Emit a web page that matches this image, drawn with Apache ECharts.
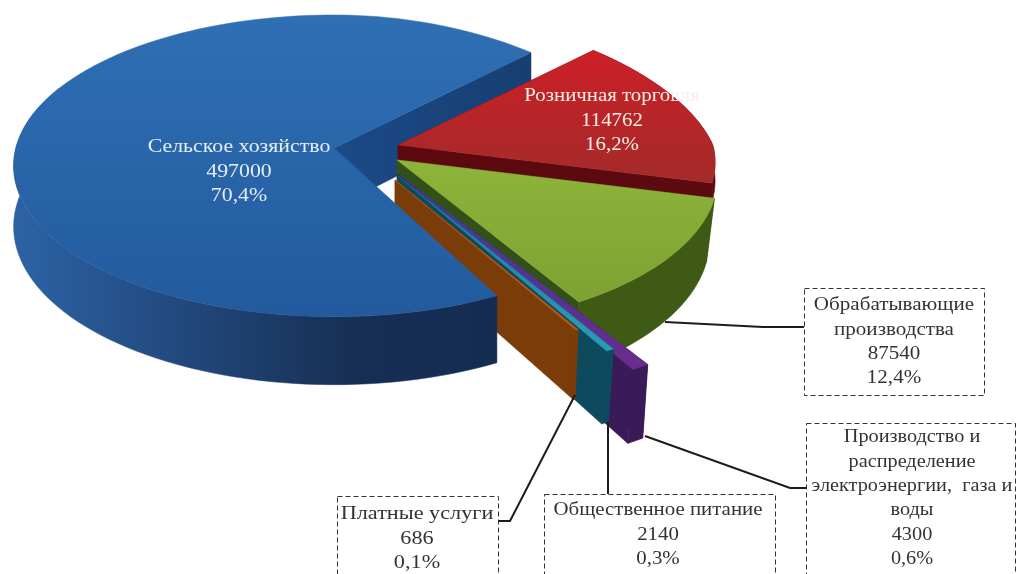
<!DOCTYPE html>
<html><head><meta charset="utf-8">
<style>html,body{margin:0;padding:0;background:#fff}#c{width:1017px;height:574px;filter:blur(0.7px)}</style>
<script src="https://cdn.jsdelivr.net/npm/echarts@6/dist/echarts.min.js"></script>
</head><body><div id="c"></div>
<script>
// ---- data, clockwise from the top-right edge of the red slice
const categories = ['Розничная торговля','Обрабатывающие производства','Производство и распределение электроэнергии, газа и воды','Общественное питание','Платные услуги','Сельское хозяйство'];
const values = [114762, 87540, 4300, 2140, 686, 497000];
const percents = ['16,2%','12,4%','0,6%','0,3%','0,1%','70,4%'];

// ---- look of the 3D pie
const startDeg = -44, R = 323, Rt = 151, persp = 0.12;
const apexX = [398, 397, 398, 398, 395, 334];
const apexY = [145, 160, 174, 176, 180, 148];
const radiusK = [0.975, 0.985, 1.285, 1.165, 1.02, 0.985];
const turnDeg = [0, 0, -0.6, -1.5, -2.15, 0];
const depths = [18, 62, 64, 64, 62, 60];
const leanX = [0, -8, -5, -5, -3, 0];
const faceTop = ['#cc2026','#8eb43a','#34409a','#2a6f9c','#b85a14','#2f6fb4'];
const faceBot = ['#a32a2a','#7ea232','#6a2c8c','#2a9cb8','#b85a14','#235a9e'];
const wallCol = ['#5a0810','#3f5a14','#3a1a58','#0e4a5e','#7a3c08','#1c3e6e'];
const innerCol = ['#5c0a10','#33501a','#3a1a58','#0e4a5e','#7a3c08','#1c4e8c'];
const wallEndDeg = [999, 999, 999, 999, 999, 205];
const grad = (a,b,h) => new echarts.graphic.LinearGradient(0,0,h?1:0,h?0:1,[{offset:0,color:a},{offset:1,color:b}]);

const total = values.reduce((a,b)=>a+b,0);
const spans = []; let acc = startDeg;
values.forEach(v=>{const d=v/total*360; spans.push([acc,acc+d]); acc+=d;});

function proj(i,deg,r,down){
  const t=deg*Math.PI/180, u=r*Math.cos(t), v=r*Math.sin(t), w=1-persp*v;
  const f=(u>0&&v<0)?1-0.1*Math.abs(v):1;
  return [apexX[i]+R*u*f/w+(down?leanX[i]:0), apexY[i]+Rt*v/w+(down?depths[i]/w:0)];
}
function arc(i,down,rev,limit){
  const a=spans[i][0], b=Math.min(spans[i][1],limit||1e9), turn=turnDeg[i], k=radiusK[i], n=Math.max(3,Math.ceil((b-a)/2)), pts=[];
  for(let j=0;j<=n;j++) pts.push(proj(i,a+turn+(b-a)*j/n,k,down));
  return rev?pts.reverse():pts;
}
function edgeWall(i,deg){
  const top=[apexX[i],apexY[i]], bot=[apexX[i],apexY[i]+depths[i]];
  return [top,proj(i,deg+turnDeg[i],radiusK[i],false),proj(i,deg+turnDeg[i],radiusK[i],true),bot];
}
const poly=(points,fill)=>({type:'polygon',shape:{points},style:{fill,stroke:fill,lineWidth:0.5}});

// paint order: back wall of the big slice, then the small slices, then the big slice itself
const paint=[[5,'back'],[0,'all'],[1,'all'],[2,'all'],[3,'all'],[4,'all'],[5,'front']];

function renderItem(params,api){
  const [i,pass]=paint[params.dataIndex]; const kids=[];
  if(pass==='back'){
    kids.push(poly(edgeWall(i,spans[i][1]),grad('#1b4a88','#173f70',true)));
  } else {
    if(pass==='all') kids.push(poly(edgeWall(i,spans[i][0]),innerCol[i]));
    if(pass==='all') kids.push(poly(edgeWall(i,spans[i][1]),innerCol[i]));
    const wf = i===5 ? new echarts.graphic.LinearGradient(0,0,1,0,[{offset:0,color:'#2c63a6'},{offset:0.3,color:'#234c82'},{offset:0.7,color:'#172f54'},{offset:1,color:'#142c52'}]) : wallCol[i];
    kids.push(poly(arc(i,false,false,wallEndDeg[i]).concat(arc(i,true,true,wallEndDeg[i])),wf));
    const face=[[apexX[i],apexY[i]]].concat(arc(i,false));
    kids.push(poly(face,grad(faceTop[i],faceBot[i],false)));
  }
  return {type:'group',children:kids};
}

// ---- labels
const serif='"Liberation Serif","Times New Roman",serif';
const fs=19.5;
function textBlock(cx,ys,lines,fill,sx){
  return lines.map((t,k)=>({type:'text',x:cx,y:ys+k*24.4,z:20,scaleX:sx,style:{text:t,fill,font:fs+'px '+serif,align:'center',verticalAlign:'middle'}}));
}
function box(x,y,w,h){return {type:'rect',z:19,shape:{x:x+.5,y:y+.5,width:w,height:h},style:{fill:'#fff',stroke:'#333',lineWidth:1,lineDash:[5,3]}};}
function lead(pts){return {type:'polyline',z:18,shape:{points:pts},style:{stroke:'#1c1c1c',lineWidth:2,fill:null}};}
const txt=(i,extra)=>[...(extra||[categories[i]]),String(values[i]),percents[i]];
const graphics=[
  lead([[665,322],[763,327],[804,327]]),
  lead([[645,436],[790,488],[806,488]]),
  lead([[608,422],[608,494]]),
  lead([[575,395],[510,521],[498,521]]),
  box(804,288,180,107), box(806,423,209,160), box(544,494,231,90), box(337,496,161,90),
  ...textBlock(239,147,txt(5),'#e4eef8',1.12),
  ...textBlock(612,96,txt(0),'#fbeee8',1.07),
  ...textBlock(894,305,txt(1,['Обрабатывающие','производства']),'#333',1.08),
  ...textBlock(912,437,txt(2,['Производство и','распределение','электроэнергии,  газа и','воды']),'#333',1.04),
  ...textBlock(658,510,txt(3),'#333',1.07),
  ...textBlock(417,514,txt(4),'#333',1.14)
];

const chart=echarts.init(document.getElementById('c'),null,{renderer:'canvas'});
chart.setOption({
  animation:false,backgroundColor:'#fff',
  series:[{type:'custom',coordinateSystem:'none',silent:true,clip:false,
    data:paint.map(p=>({name:categories[p[0]],value:values[p[0]]})),
    renderItem}],
  graphic:{elements:graphics}
});
</script></body></html>
